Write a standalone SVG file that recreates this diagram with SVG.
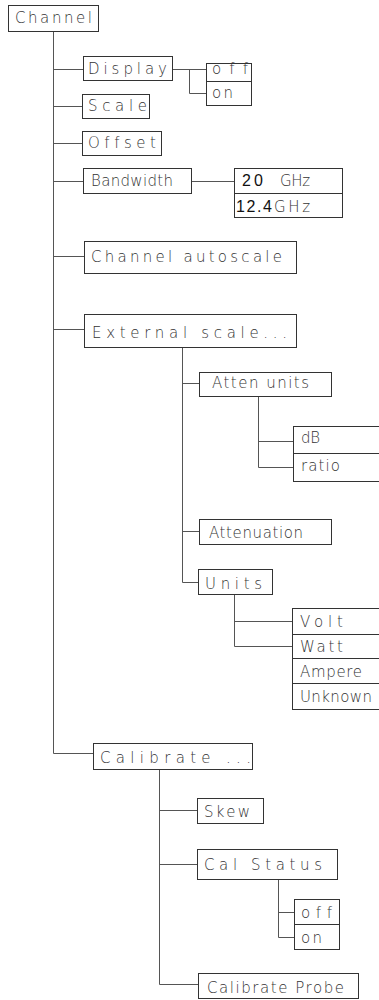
<svg xmlns="http://www.w3.org/2000/svg" width="379" height="1000" viewBox="0 0 379 1000">
<style>
rect.b{fill:none;stroke:#333;stroke-width:1}
.c path{fill:none;stroke:#555;stroke-width:1}
text{font-family:"DejaVu Sans","Liberation Sans",sans-serif;font-weight:200;font-size:15px;fill:#333;font-variant-ligatures:none;font-feature-settings:"liga" 0,"clig" 0}
text.n{font-family:"Liberation Sans",sans-serif;font-weight:normal;font-size:16px;fill:#111}
line.d{stroke:#333;stroke-width:1}
</style>
<rect width="379" height="1000" fill="#fff"/>
<g class="c" id="connectors">
<path d="M53.5,31 V753.5 H93"/>
<path d="M53.5,69.5 H83"/>
<path d="M53.5,106.5 H82"/>
<path d="M53.5,143.5 H82"/>
<path d="M53.5,181.5 H83"/>
<path d="M53.5,256.5 H84"/>
<path d="M53.5,329.5 H84"/>
<path d="M172,69.5 H206"/>
<path d="M189.5,69.5 V93.5 H206"/>
<path d="M191,181.5 H234"/>
<path d="M182.5,347 V582.5 H198"/>
<path d="M182.5,383.5 H199"/>
<path d="M182.5,531.5 H199"/>
<path d="M258.5,396 V467.5 H293"/>
<path d="M258.5,441.5 H293"/>
<path d="M234.5,594 V646.5 H292"/>
<path d="M234.5,621.5 H292"/>
<path d="M159.5,769 V984.5 H198"/>
<path d="M159.5,810.5 H197"/>
<path d="M159.5,864.5 H197"/>
<path d="M278.5,879 V937.5 H294"/>
<path d="M278.5,912.5 H294"/>
</g>
<g id="channel"><rect class="b" x="8.5" y="5.5" width="90" height="26"/><text x="15" y="23" textLength="77" lengthAdjust="spacing">Channel</text></g>
<g id="display"><rect class="b" x="83.5" y="56.5" width="89" height="24"/><text x="88" y="74" textLength="79" lengthAdjust="spacing">Display</text></g>
<g id="display-options"><rect class="b" x="206.5" y="63.5" width="45" height="42"/><line class="d" x1="206" y1="81.5" x2="252" y2="81.5"/><text x="212" y="74" textLength="36" lengthAdjust="spacing">off</text><text x="212" y="98" textLength="21" lengthAdjust="spacing">on</text></g>
<g id="scale"><rect class="b" x="82.5" y="94.5" width="67" height="24"/><text x="88" y="111" textLength="59" lengthAdjust="spacing">Scale</text></g>
<g id="offset"><rect class="b" x="82.5" y="131.5" width="79" height="24"/><text x="88" y="148" textLength="68" lengthAdjust="spacing">Offset</text></g>
<g id="bandwidth"><rect class="b" x="83.5" y="168.5" width="108" height="25"/><text x="91" y="186" textLength="82" lengthAdjust="spacing">Bandwidth</text></g>
<g id="bandwidth-options"><rect class="b" x="234.5" y="168.5" width="108" height="49"/><line class="d" x1="234" y1="193.5" x2="343" y2="193.5"/><text class="n" x="242" y="186" textLength="21" lengthAdjust="spacing">20</text><text x="280" y="186" textLength="30" lengthAdjust="spacing">GHz</text><text class="n" x="236" y="212" textLength="36" lengthAdjust="spacing">12.4</text><text x="274" y="212" textLength="36" lengthAdjust="spacing">GHz</text></g>
<g id="channel-autoscale"><rect class="b" x="84.5" y="241.5" width="212" height="32"/><text x="91" y="262" textLength="191" lengthAdjust="spacing">Channel autoscale</text></g>
<g id="external-scale"><rect class="b" x="84.5" y="314.5" width="212" height="33"/><text x="92" y="338" textLength="195" lengthAdjust="spacing">External scale...</text></g>
<g id="atten-units"><rect class="b" x="199.5" y="372.5" width="132" height="24"/><text x="212" y="388" textLength="97" lengthAdjust="spacing">Atten units</text></g>
<g id="atten-units-options"><rect class="b" x="293.5" y="426.5" width="100" height="55"/><line class="d" x1="293" y1="453.5" x2="379" y2="453.5"/><text x="301" y="443" textLength="19" lengthAdjust="spacing">dB</text><text x="301" y="471" textLength="39" lengthAdjust="spacing">ratio</text></g>
<g id="attenuation"><rect class="b" x="199.5" y="519.5" width="132" height="25"/><text x="209" y="538" textLength="94" lengthAdjust="spacing">Attenuation</text></g>
<g id="units"><rect class="b" x="198.5" y="569.5" width="74" height="25"/><text x="205" y="589" textLength="57" lengthAdjust="spacing">Units</text></g>
<g id="units-options"><rect class="b" x="292.5" y="608.5" width="100" height="101"/><line class="d" x1="292" y1="634.5" x2="379" y2="634.5"/><line class="d" x1="292" y1="658.5" x2="379" y2="658.5"/><line class="d" x1="292" y1="683.5" x2="379" y2="683.5"/><text x="300" y="627" textLength="43" lengthAdjust="spacing">Volt</text><text x="300" y="652" textLength="43" lengthAdjust="spacing">Watt</text><text x="300" y="677" textLength="62" lengthAdjust="spacing">Ampere</text><text x="300" y="702" textLength="72" lengthAdjust="spacing">Unknown</text></g>
<g id="calibrate"><rect class="b" x="93.5" y="743.5" width="159" height="26"/><text x="100" y="763" textLength="151" lengthAdjust="spacing">Calibrate ...</text></g>
<g id="skew"><rect class="b" x="197.5" y="798.5" width="66" height="25"/><text x="204" y="817" textLength="46" lengthAdjust="spacing">Skew</text></g>
<g id="cal-status"><rect class="b" x="197.5" y="849.5" width="140" height="30"/><text x="204" y="870" textLength="118" lengthAdjust="spacing">Cal Status</text></g>
<g id="cal-status-options"><rect class="b" x="294.5" y="899.5" width="45" height="50"/><line class="d" x1="294" y1="924.5" x2="340" y2="924.5"/><text x="301" y="918" textLength="31" lengthAdjust="spacing">off</text><text x="301" y="943" textLength="21" lengthAdjust="spacing">on</text></g>
<g id="calibrate-probe"><rect class="b" x="198.5" y="973.5" width="160" height="25"/><text x="207" y="993" textLength="137" lengthAdjust="spacing">Calibrate Probe</text></g>
</svg>
